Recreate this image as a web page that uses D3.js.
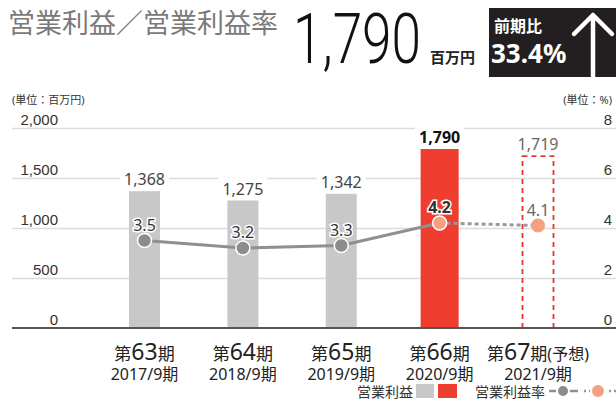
<!DOCTYPE html>
<html>
<head>
<meta charset="utf-8">
<script src="https://cdn.jsdelivr.net/npm/d3@7"></script>
<style>
  body { margin: 0; background: #fff; }
  svg { display: block; font-family: "Noto Sans", "Noto Sans CJK JP", sans-serif; }
</style>
</head>
<body>
<svg id="chart"></svg>
<script>
// data
const periodNo = ['63', '64', '65', '66', '67'];
const fiscal = ['2017/9期', '2018/9期', '2019/9期', '2020/9期', '2021/9期'];
const profit = [1368, 1275, 1342, 1790, 1719];
const margin = [3.5, 3.2, 3.3, 4.2, 4.1];
const profitTicks = [0, 500, 1000, 1500, 2000];
const marginTicks = [0, 2, 4, 6, 8];

const W = 616, H = 400;
const svg = d3.select('#chart').attr('width', W).attr('height', H);

const x = d3.scalePoint().domain(d3.range(periodNo.length)).range([144.5, 538]);
const y = d3.scaleLinear().domain([0, 2000]).range([328, 128]);
const y2 = d3.scaleLinear().domain([0, 8]).range([328, 128]);

// header
svg.append('text')
    .attr('x', 8).attr('y', 33)
    .attr('font-size', 27).attr('fill', '#7a7a7a')
    .text('営業利益／営業利益率');

svg.append('text')
    .attr('x', 293).attr('y', 63)
    .attr('font-family', 'Roboto, sans-serif')
    .attr('font-weight', 300)
    .attr('font-size', 70).attr('fill', '#111')
    .attr('textLength', 128).attr('lengthAdjust', 'spacingAndGlyphs')
    .text(d3.format(',')(profit[3]));

svg.append('text')
    .attr('x', 430).attr('y', 63)
    .attr('font-size', 15).attr('font-weight', 700).attr('fill', '#222')
    .text('百万円');

// year-on-year box
svg.append('rect')
    .attr('x', 489).attr('y', 8).attr('width', 127).attr('height', 69)
    .attr('fill', '#231f20');
svg.append('text')
    .attr('x', 494).attr('y', 32)
    .attr('font-size', 16).attr('font-weight', 700).attr('fill', '#fff')
    .text('前期比');
svg.append('text')
    .attr('x', 491).attr('y', 63)
    .attr('font-size', 26).attr('font-weight', 700).attr('fill', '#fff')
    .text('33.4%');
svg.append('path')
    .attr('d', 'M574,34 L593,15 L612,34 M593,16 V77')
    .attr('fill', 'none').attr('stroke', '#fff')
    .attr('stroke-width', 4.5).attr('stroke-linecap', 'round').attr('stroke-linejoin', 'round');

// units
svg.append('text')
    .attr('x', 12).attr('y', 104)
    .attr('font-size', 11).attr('fill', '#333')
    .text('(単位：百万円)');
svg.append('text')
    .attr('x', 612).attr('y', 104)
    .attr('font-size', 11).attr('fill', '#333').attr('text-anchor', 'end')
    .text('(単位：%)');

// gridlines
svg.append('g')
    .attr('transform', 'translate(12,0)')
    .call(d3.axisRight(y).tickValues(profitTicks.slice(1)).tickSize(604).tickFormat(''))
    .call(g => g.select('.domain').remove())
    .call(g => g.selectAll('line').attr('stroke', '#dcdcdc').attr('stroke-width', 1.5));

// left tick labels
svg.append('g')
    .attr('transform', 'translate(58,0)')
    .call(d3.axisLeft(y).tickValues(profitTicks).tickSize(0).tickPadding(0).tickFormat(d3.format(',')))
    .call(g => g.select('.domain').remove())
    .call(g => g.selectAll('text')
        .attr('dy', -4).attr('font-size', 15).attr('fill', '#333')
        .attr('font-family', null));

// right tick labels
svg.append('g')
    .attr('transform', 'translate(612,0)')
    .call(d3.axisLeft(y2).tickValues(marginTicks).tickSize(0).tickPadding(0))
    .call(g => g.select('.domain').remove())
    .call(g => g.selectAll('text')
        .attr('dy', -4).attr('font-size', 15).attr('fill', '#333')
        .attr('font-family', null));

// bars
const barW = i => i === 3 ? 38 : 31;
svg.append('g').selectAll('rect')
    .data(profit.slice(0, 4))
    .join('rect')
    .attr('x', (d, i) => x(i) - barW(i) / 2)
    .attr('y', d => y(d))
    .attr('width', (d, i) => barW(i))
    .attr('height', d => y(0) - y(d))
    .attr('fill', (d, i) => i === 3 ? '#ef3e2f' : '#c8c8c9');

// forecast bar
svg.append('rect')
    .attr('x', x(4) - 15.5).attr('y', y(profit[4]))
    .attr('width', 31).attr('height', y(0) - y(profit[4]))
    .attr('fill', 'none').attr('stroke', '#e8332a')
    .attr('stroke-width', 1.8).attr('stroke-dasharray', '5,4');

// baseline
svg.append('line')
    .attr('x1', 12).attr('x2', 616)
    .attr('y1', y(0)).attr('y2', y(0))
    .attr('stroke', '#555').attr('stroke-width', 2);

// bar value labels with white backing
const barLabels = svg.append('g').selectAll('g')
    .data(profit)
    .join('g');
barLabels.append('text')
    .attr('x', (d, i) => x(i))
    .attr('y', d => y(d) - 6)
    .attr('text-anchor', 'middle')
    .attr('font-size', 16)
    .attr('font-weight', (d, i) => i === 3 ? 700 : 400)
    .attr('fill', (d, i) => i === 3 ? '#111' : (i === 4 ? '#666' : '#444'))
    .text(d => d3.format(',')(d));
barLabels.each(function () {
    const t = d3.select(this).select('text');
    const b = t.node().getBBox();
    d3.select(this).insert('rect', 'text')
        .attr('x', b.x - 4).attr('y', b.y)
        .attr('width', b.width + 8).attr('height', b.height)
        .attr('fill', '#fff');
});

// margin line
const line = d3.line().x((d, i) => x(i)).y(d => y2(d));
svg.append('path')
    .attr('d', line(margin.slice(0, 4)))
    .attr('fill', 'none').attr('stroke', '#8f8f8f').attr('stroke-width', 3);
svg.append('path')
    .attr('d', d3.line()([[x(3), y2(margin[3])], [x(4), y2(margin[4])]]))
    .attr('fill', 'none').attr('stroke', '#999').attr('stroke-width', 3)
    .attr('stroke-dasharray', '4,3');

svg.append('g').selectAll('circle')
    .data(margin)
    .join('circle')
    .attr('cx', (d, i) => x(i))
    .attr('cy', d => y2(d))
    .attr('r', 7)
    .attr('fill', (d, i) => i < 3 ? '#8c8c8c' : '#f5a083')
    .attr('stroke', (d, i) => i === 4 ? 'none' : '#fff')
    .attr('stroke-width', 1.5);

svg.append('g').selectAll('text')
    .data(margin)
    .join('text')
    .attr('x', (d, i) => x(i))
    .attr('y', d => y2(d) - 10)
    .attr('text-anchor', 'middle')
    .attr('font-size', 16)
    .attr('font-weight', (d, i) => i === 3 ? 700 : 400)
    .attr('fill', (d, i) => i === 4 ? '#666' : '#333')
    .attr('stroke', (d, i) => i === 4 ? 'none' : '#fff')
    .attr('stroke-width', 3).attr('paint-order', 'stroke')
    .text(d => d.toFixed(1));

// x labels
const xl = svg.append('g').selectAll('g')
    .data(periodNo)
    .join('g')
    .attr('transform', (d, i) => `translate(${x(i)},0)`);
const l1 = xl.append('text')
    .attr('y', 360).attr('text-anchor', 'middle')
    .attr('fill', '#222').attr('font-size', 17);
l1.append('tspan').text('第');
l1.append('tspan').attr('font-size', 23).text(d => d);
l1.append('tspan').text('期');
l1.filter((d, i) => i === 4).append('tspan').attr('font-size', 16).text('(予想)');
xl.append('text')
    .attr('y', 380).attr('text-anchor', 'middle')
    .attr('fill', '#222').attr('font-size', 16)
    .text((d, i) => fiscal[i]);

// legend
const lg = svg.append('g').attr('font-size', 14).attr('fill', '#333');
lg.append('text').attr('x', 357).attr('y', 397).text('営業利益');
lg.append('rect').attr('x', 416).attr('y', 384).attr('width', 18).attr('height', 14).attr('fill', '#c8c8c9');
lg.append('rect').attr('x', 438).attr('y', 384).attr('width', 19).attr('height', 14).attr('fill', '#ef3e2f');
lg.append('text').attr('x', 475).attr('y', 397).text('営業利益率');
lg.append('line').attr('x1', 549).attr('x2', 578).attr('y1', 391).attr('y2', 391)
    .attr('stroke', '#8f8f8f').attr('stroke-width', 2.5);
lg.append('circle').attr('cx', 563).attr('cy', 391).attr('r', 6).attr('fill', '#8c8c8c')
    .attr('stroke', '#fff').attr('stroke-width', 2);
lg.append('line').attr('x1', 584).attr('x2', 616).attr('y1', 391).attr('y2', 391)
    .attr('stroke', '#999').attr('stroke-width', 2.5).attr('stroke-dasharray', '2,3');
lg.append('circle').attr('cx', 598).attr('cy', 391).attr('r', 7).attr('fill', '#f5a083')
    .attr('stroke', '#fff').attr('stroke-width', 2);
</script>
</body>
</html>
